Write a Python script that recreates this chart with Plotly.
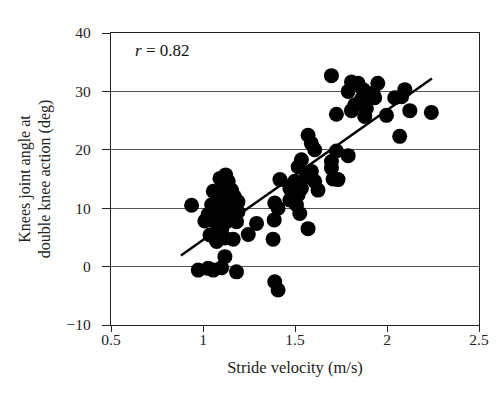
import plotly.graph_objects as go

velocity = [1.698, 1.807, 1.843, 1.789, 1.870, 1.897, 1.933, 1.950, 1.825, 1.807, 1.879, 1.725,
            1.997, 2.042, 2.097, 2.079, 2.124, 2.241, 2.069, 1.861, 1.888, 1.924,
            1.571, 1.589, 1.607, 1.725, 1.789, 1.698, 1.698, 1.707, 1.734, 1.535, 1.517, 1.589,
            1.562, 1.607, 1.625, 1.418, 1.499, 1.472, 1.535, 1.517, 1.472, 1.508, 1.390, 1.408,
            1.526, 1.387, 1.571, 1.381, 1.390, 1.408, 1.291, 1.246,
            0.938, 0.974, 1.028, 1.056, 1.101, 1.119, 1.182, 1.010, 1.047, 1.056, 1.092, 1.123,
            1.137, 1.155, 1.190, 1.190, 1.182, 1.038, 1.074, 1.101, 1.119, 1.164, 1.083, 1.101,
            1.119, 1.137, 1.065, 1.028, 1.155, 1.128, 1.110, 1.140, 1.170, 1.095,
            1.060, 1.080, 1.150, 1.170, 1.130, 1.100]
angle = [32.7, 31.6, 31.4, 30.0, 30.3, 29.4, 28.9, 31.4, 27.7, 26.7, 25.7, 26.1,
         25.9, 28.9, 30.3, 29.1, 26.7, 26.4, 22.3, 28.6, 27.1, 29.7,
         22.5, 21.1, 20.0, 19.8, 19.0, 18.0, 16.9, 15.0, 14.9, 18.3, 17.1, 16.3,
         15.4, 14.6, 13.1, 14.9, 14.6, 13.4, 13.4, 12.3, 11.4, 10.6, 10.9, 10.0,
         9.1, 8.0, 6.5, 4.7, -2.6, -4.0, 7.4, 5.5,
         10.5, -0.6, -0.3, -0.6, -0.2, 1.7, -0.9, 7.8, 10.6, 12.9, 15.1, 15.7,
         14.6, 13.1, 11.1, 9.4, 7.7, 5.4, 4.3, 6.3, 4.9, 4.7, 8.9, 11.1,
         12.3, 10.0, 7.7, 8.9, 8.9, 7.7, 13.8, 11.8, 9.8, 9.6,
         9.5, 11.5, 10.5, 12.0, 9.0, 7.0]

fit_x = [0.88, 2.244]
fit_y = [1.9, 32.2]

x_ticks = [0.5, 1, 1.5, 2, 2.5]
x_labels = ["0.5", "1", "1.5", "2", "2.5"]
y_ticks = [-10, 0, 10, 20, 30, 40]
y_labels = ["\u221210", "0", "10", "20", "30", "40"]

font = "Liberation Serif, Times New Roman, serif"

fig = go.Figure()
fig.add_trace(go.Scatter(x=velocity, y=angle, mode="markers",
                         marker=dict(color="black", size=15, line=dict(width=0)),
                         showlegend=False))
fig.add_trace(go.Scatter(x=fit_x, y=fit_y, mode="lines",
                         line=dict(color="black", width=2.5), showlegend=False))

fig.add_annotation(x=0.621, y=37.0, xref="x", yref="y", xanchor="left", showarrow=False,
                   text="<i>r</i> = 0.82", font=dict(family=font, size=17, color="#111"))

fig.update_layout(
    width=500, height=393,
    margin=dict(l=103, r=29, t=25, b=76),
    paper_bgcolor="white", plot_bgcolor="white",
    font=dict(family=font, size=15.5, color="#222"),
    xaxis=dict(range=[0.5, 2.5], tickvals=x_ticks, ticktext=x_labels,
               showgrid=False, zeroline=False, showline=True, linecolor="#222",
               linewidth=1.2, mirror=True, ticks="outside", ticklen=6, tickcolor="#222",
               ticklabelstandoff=-6,
               title=dict(text="Stride velocity (m/s)", font=dict(family=font, size=16.5), standoff=14)),
    yaxis=dict(range=[-10, 40], tickvals=y_ticks, ticktext=y_labels,
               showgrid=True, gridcolor="#555", gridwidth=1.2, zeroline=False,
               showline=True, linecolor="#222", linewidth=1.2, mirror=True,
               ticks="outside", ticklen=8, tickcolor="#222", ticklabelstandoff=8,
               title=dict(text="Knees joint angle at<br>double knee action (deg)",
                          font=dict(family=font, size=16), standoff=11)),
)

fig.write_html("out.html")
